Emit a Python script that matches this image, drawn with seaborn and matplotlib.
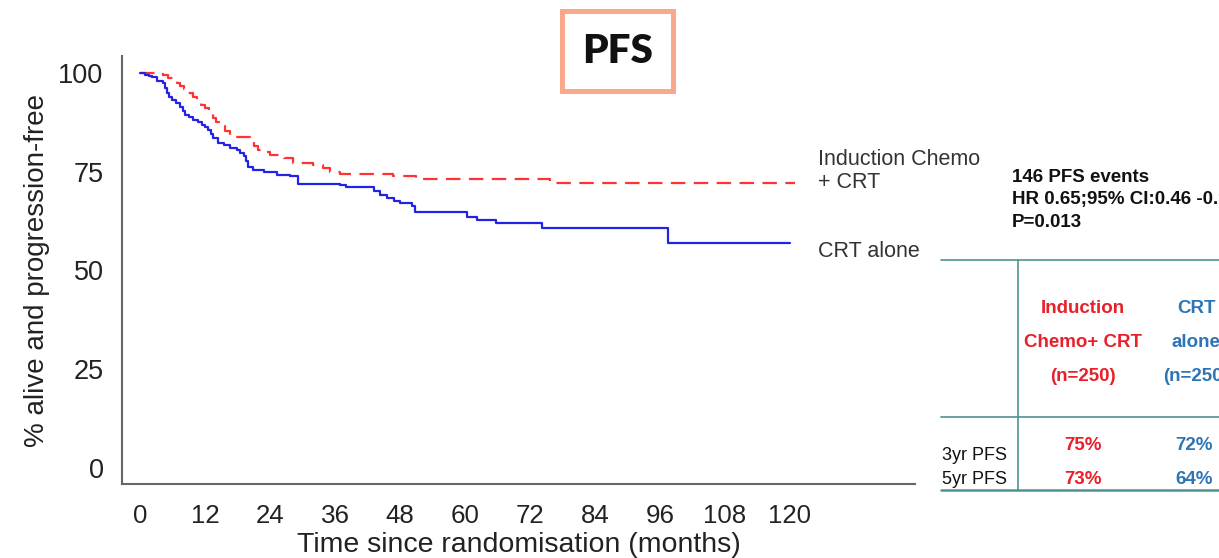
import numpy as np
import pandas as pd
import matplotlib
matplotlib.use("Agg")
import matplotlib.pyplot as plt
from matplotlib.patches import Rectangle
from matplotlib.lines import Line2D
import seaborn as sns

# ---------------- data ----------------
crt_time = [0, 0.9, 1.6, 2.2, 3.1, 4.3, 4.6, 4.9, 5.3, 5.8, 6.6, 7.4, 7.9, 8.3, 9.0,
            9.8, 10.6, 11.4, 12.0, 12.6, 13.0, 13.5, 14.4, 15.5, 16.6, 17.8, 18.5,
            19.1, 19.6, 20.0, 20.9, 22.8, 25.2, 27.7, 29.2, 36.9, 38.1, 43.1, 44.3,
            45.5, 46.8, 48, 50.2, 50.8, 60.3, 62.2, 65.8, 74.2, 97.5, 120]
crt_pfs = [100, 99.6, 99.2, 98.9, 98.0, 97.4, 96.2, 94.9, 94.0, 93.2, 92.3, 91.5,
           90.4, 89.4, 88.8, 88.2, 87.5, 86.9, 86.2, 85.6, 84.6, 83.5, 82.3, 81.7,
           81.0, 80.6, 79.8, 78.9, 77.6, 76.3, 75.5, 75.0, 74.2, 73.8, 71.9, 71.7,
           71.1, 70.0, 69.2, 68.3, 67.6, 67.0, 66.2, 64.9, 63.6, 62.8, 62.0, 60.8,
           57.0, 57.0]

ind_time = [0, 2.8, 4.3, 5.2, 6.2, 6.8, 7.4, 8.1, 8.9, 9.7, 10.5, 11.2, 12.0, 12.7,
            13.5, 14.1, 14.8, 15.7, 16.6, 20.3, 21.0, 21.8, 22.9, 24.0, 26.5, 28.3,
            32, 33.8, 35, 37, 46.7, 51, 75.7, 121]
ind_pfs = [100, 99.8, 99.4, 98.8, 98.1, 97.4, 96.8, 95.9, 94.9, 93.8, 92.8, 92.0,
           91.1, 89.8, 88.6, 87.6, 86.5, 85.2, 83.9, 82.7, 81.6, 80.6, 79.9, 79.3,
           78.4, 77.2, 76.7, 75.9, 75.0, 74.5, 73.8, 73.2, 72.1, 72.1]

arms = ["Induction Chemo + CRT", "CRT alone"]
x_ticks = [0, 12, 24, 36, 48, 60, 72, 84, 96, 108, 120, 140]
x_ticklabels = ["0", "12", "24", "36", "48", "60", "72", "84", "96", "108", "120", ""]
y_ticks = [0, 25, 50, 75, 100]

summary_lines = ["146 PFS events", "HR 0.65;95% CI:0.46 -0.92", "P=0.013"]
table_header_ind = ["Induction", "Chemo+ CRT", "(n=250)"]
table_header_crt = ["CRT", "alone", "(n=250)"]
row_labels = ["3yr PFS", "5yr PFS"]
ind_rates = ["75%", "73%"]
crt_rates = ["72%", "64%"]

# ---------------- style ----------------
sns.set_style("white")
plt.rcParams["font.family"] = ["Liberation Sans", "DejaVu Sans"]

RED = "#FF3333"
BLUE = "#2323E6"
TXT_RED = "#E8202A"
TXT_BLUE = "#2E75B6"
TEAL = "#4F9292"

df = pd.concat([
    pd.DataFrame({"time": ind_time, "pfs": ind_pfs, "arm": arms[0]}),
    pd.DataFrame({"time": crt_time, "pfs": crt_pfs, "arm": arms[1]}),
], ignore_index=True)

fig = plt.figure(figsize=(12.19, 5.58), dpi=100)
ax = fig.add_axes([0.1003, 0.1321, 0.6503, 0.7675])

sns.lineplot(data=df, x="time", y="pfs", hue="arm", style="arm",
             palette={arms[0]: RED, arms[1]: BLUE},
             dashes={arms[0]: (6.5, 3.8), arms[1]: ""},
             estimator=None, sort=False, drawstyle="steps-post",
             linewidth=1.6, legend=False, ax=ax)

ax.set_xlim(-3.3, 143.1)
ax.set_ylim(-4.2, 104.3)
ax.set_xticks(x_ticks)
ax.set_xticklabels(x_ticklabels, fontsize=18.6, color="#222222")
ax.set_yticks(y_ticks)
ax.set_yticklabels([str(v) for v in y_ticks], fontsize=19.5, color="#222222")
ax.tick_params(axis="x", length=8.5, width=1.5, color="#333333", pad=6, direction="out")
ax.tick_params(axis="y", length=8.5, width=1.5, color="#555555", pad=5, direction="out")
for s in ["top", "right"]:
    ax.spines[s].set_visible(False)
for s in ["left", "bottom"]:
    ax.spines[s].set_color("#666666")
    ax.spines[s].set_linewidth(1.5)

ax.set_xlabel("Time since randomisation (months)", fontsize=20.5, color="#222222")
ax.xaxis.set_label_coords(0.5, -0.142)
ax.xaxis.label.set_va("center")
ax.set_ylabel("% alive and progression-free", fontsize=20, color="#222222")
ax.yaxis.set_label_coords(-0.108, 0.5)
ax.yaxis.label.set_va("center")

# curve labels
ax.text(125.2, 78.0, "Induction Chemo", fontsize=15.5, color="#333333", va="center", ha="left")
ax.text(125.2, 72.2, "+ CRT", fontsize=15.5, color="#333333", va="center", ha="left")
ax.text(125.2, 54.9, "CRT alone", fontsize=15.5, color="#333333", va="center", ha="left")

# title box
W, H = 1219.0, 558.0
def fx(px):
    return px / W
def fy(py):
    return 1 - py / H

fig.patches.append(Rectangle((fx(562), fy(90.5)), fx(111), 79.5 / H,
                             transform=fig.transFigure, fill=False,
                             edgecolor="#F9A88C", linewidth=3.6, zorder=5))
fig.text(fx(617.5), fy(51.5), "PFS", family=["Lato", "DejaVu Sans"], fontweight="heavy",
         fontsize=29, ha="center", va="center", color="#111111")

# summary statistics
for i, s in enumerate(summary_lines):
    fig.text(fx(1012), fy(177.5 + 22.3 * i), s, fontsize=13.5, fontweight="bold",
             ha="left", va="center", color="#111111")

# table lines
fig.add_artist(Line2D([fx(941), 1.0], [fy(260), fy(260)], transform=fig.transFigure,
                      color=TEAL, linewidth=1.2))
fig.add_artist(Line2D([fx(941), 1.0], [fy(416.7), fy(416.7)], transform=fig.transFigure,
                      color=TEAL, linewidth=1.2))
fig.add_artist(Line2D([fx(941), 1.0], [fy(490), fy(490)], transform=fig.transFigure,
                      color=TEAL, linewidth=1.8))
fig.add_artist(Line2D([fx(1017.7), fx(1017.7)], [fy(260), fy(490)], transform=fig.transFigure,
                      color=TEAL, linewidth=1.2))

for i, s in enumerate(table_header_ind):
    fig.text(fx(1083.3), fy(308.3 + 34.3 * i), s, fontsize=13.5, fontweight="bold",
             ha="center", va="center", color=TXT_RED)
for i, s in enumerate(table_header_crt):
    fig.text(fx(1196), fy(308.3 + 34.3 * i), s, fontsize=13.5, fontweight="bold",
             ha="center", va="center", color=TXT_BLUE)

row_y = [455, 480]
val_y = [445, 480]
for i in range(2):
    fig.text(fx(942.5), fy(row_y[i]), row_labels[i], fontsize=13, ha="left", va="center",
             color="#111111")
    fig.text(fx(1083.3), fy(val_y[i]), ind_rates[i], fontsize=13.5, fontweight="bold",
             ha="center", va="center", color=TXT_RED)
    fig.text(fx(1194), fy(val_y[i]), crt_rates[i], fontsize=13.5, fontweight="bold",
             ha="center", va="center", color=TXT_BLUE)

fig.savefig("out.png", dpi=100)
